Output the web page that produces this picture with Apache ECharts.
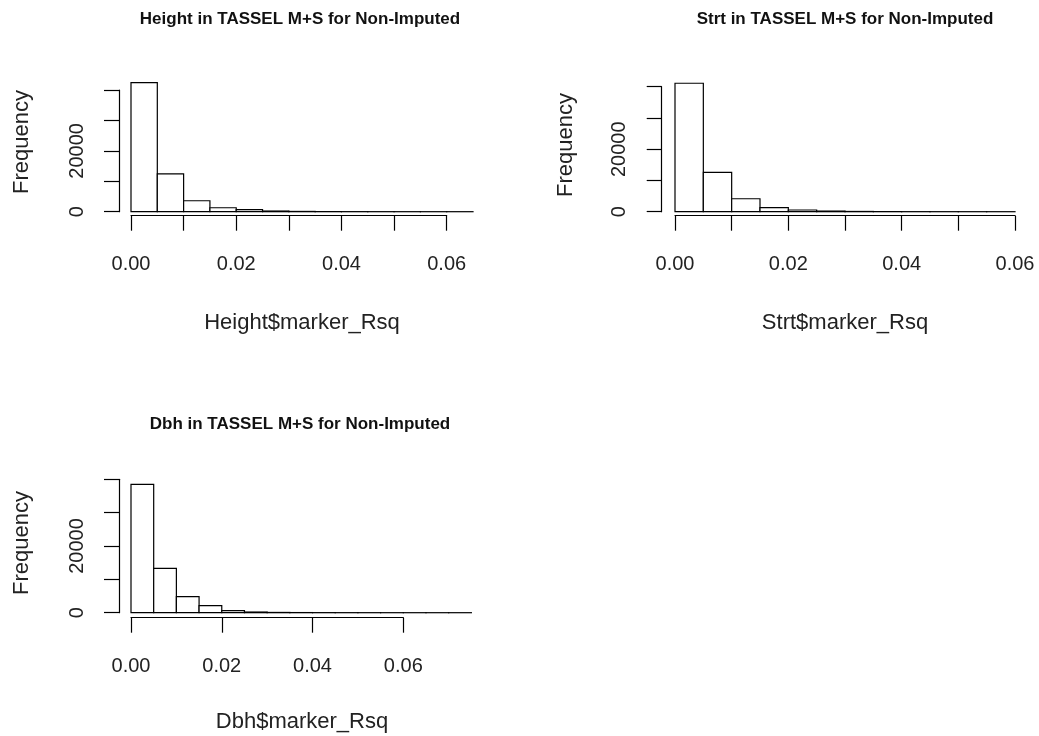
<!DOCTYPE html>
<html><head><meta charset="utf-8">
<script src="https://cdn.jsdelivr.net/npm/echarts@6/dist/echarts.min.js"></script>
<style>html,body{margin:0;padding:0;background:#fff}#c{width:1039px;height:736px}</style>
</head><body><div id="c"></div>
<script>
// ---- data ----
const titles = ['Height in TASSEL M+S for Non-Imputed', 'Strt in TASSEL M+S for Non-Imputed', 'Dbh in TASSEL M+S for Non-Imputed'];
const xNames = ['Height$marker_Rsq', 'Strt$marker_Rsq', 'Dbh$marker_Rsq'];
const yName = 'Frequency';
const xTickLabels = ['0.00', '0.02', '0.04', '0.06'];
const yTickLabels = ['0', '20000'];

const heightEdges = [0, 0.005, 0.01, 0.015, 0.02, 0.025, 0.03, 0.035, 0.04, 0.045, 0.05, 0.055, 0.06, 0.065];
const heightCounts = [42400, 12400, 3600, 1300, 650, 220, 90, 40, 20, 10, 5, 3, 2];

const strtEdges = [0, 0.005, 0.01, 0.015, 0.02, 0.025, 0.03, 0.035, 0.04, 0.045, 0.05, 0.055, 0.06];
const strtCounts = [41100, 12600, 4150, 1300, 550, 200, 80, 35, 15, 8, 4, 2];

const dbhEdges = [0, 0.005, 0.01, 0.015, 0.02, 0.025, 0.03, 0.035, 0.04, 0.045, 0.05, 0.055, 0.06, 0.065, 0.07, 0.075];
const dbhCounts = [38500, 13300, 4800, 2100, 600, 200, 80, 40, 20, 10, 5, 3, 2, 1, 1];

// ---- layout ----
const FONT = 'Liberation Sans, Arial, sans-serif';
const panels = [
  {edges: heightEdges, counts: heightCounts, grid: {left: 131, top: 90, width: 315.7, height: 121.7}, xInt: 0.01, yOff: 12, xOff: 4,
   title: [300, 19], xname: [302, 323], yname: [22, 142]},
  {edges: strtEdges, counts: strtCounts, grid: {left: 675, top: 86.7, width: 340, height: 125}, xInt: 0.01, yOff: 13.3, xOff: 4,
   title: [845, 19], xname: [845, 323], yname: [566, 145]},
  {edges: dbhEdges, counts: dbhCounts, grid: {left: 131, top: 479.3, width: 272.3, height: 133.4}, xInt: 0.02, yOff: 12, xOff: 5,
   title: [300, 424], xname: [302, 722], yname: [22, 543]}
];

const grids = [], xAxes = [], yAxes = [], series = [], graphics = [];
panels.forEach((p, i) => {
  grids.push(Object.assign({containLabel: false}, p.grid));
  xAxes.push({
    type: 'value', gridIndex: i, min: 0, max: 0.06, interval: p.xInt, offset: p.xOff,
    axisLine: {show: true, onZero: false, lineStyle: {color: '#000', width: 1.2}},
    axisTick: {show: true, length: 15, lineStyle: {color: '#000', width: 1.2}},
    splitLine: {show: false},
    axisLabel: {fontSize: 20, fontFamily: FONT, color: '#222', margin: 39,
      formatter: v => { const s = v.toFixed(2); return xTickLabels.includes(s) ? s : ''; }}
  });
  yAxes.push({
    type: 'value', gridIndex: i, min: 0, max: 40000, interval: 10000, offset: p.yOff,
    axisLine: {show: true, onZero: false, lineStyle: {color: '#000', width: 1.2}},
    axisTick: {show: true, length: 15, lineStyle: {color: '#000', width: 1.2}},
    splitLine: {show: false},
    axisLabel: {fontSize: 20, fontFamily: FONT, color: '#222', margin: 32, rotate: 90,
      formatter: v => { const s = String(Math.round(v)); return yTickLabels.includes(s) ? s : ''; }}
  });
  const data = p.counts.map((c, k) => [p.edges[k], p.edges[k + 1], c]);
  series.push({
    type: 'custom', xAxisIndex: i, yAxisIndex: i, clip: false, silent: true,
    encode: {x: [0, 1], y: 2},
    data: data,
    renderItem: (params, api) => {
      const a = api.coord([api.value(0), api.value(2)]);
      const b = api.coord([api.value(1), 0]);
      return {type: 'rect', shape: {x: a[0], y: a[1], width: b[0] - a[0], height: b[1] - a[1]},
        style: {fill: '#fff', stroke: '#000', lineWidth: 1.2}};
    }
  });
  graphics.push({type: 'text', x: p.title[0], y: p.title[1],
    style: {text: titles[i], font: 'bold 17px ' + FONT, fill: '#111', align: 'center', verticalAlign: 'middle'}});
  graphics.push({type: 'text', x: p.xname[0], y: p.xname[1],
    style: {text: xNames[i], font: '22px ' + FONT, fill: '#222', align: 'center', verticalAlign: 'middle'}});
  graphics.push({type: 'text', x: p.yname[0], y: p.yname[1], rotation: Math.PI / 2,
    style: {text: yName, font: '22px ' + FONT, fill: '#222', align: 'center', verticalAlign: 'middle'}});
});

const chart = echarts.init(document.getElementById('c'), null, {renderer: 'canvas'});
chart.setOption({
  backgroundColor: '#fff',
  animation: false,
  grid: grids, xAxis: xAxes, yAxis: yAxes, series: series,
  graphic: {elements: graphics}
});
</script></body></html>
